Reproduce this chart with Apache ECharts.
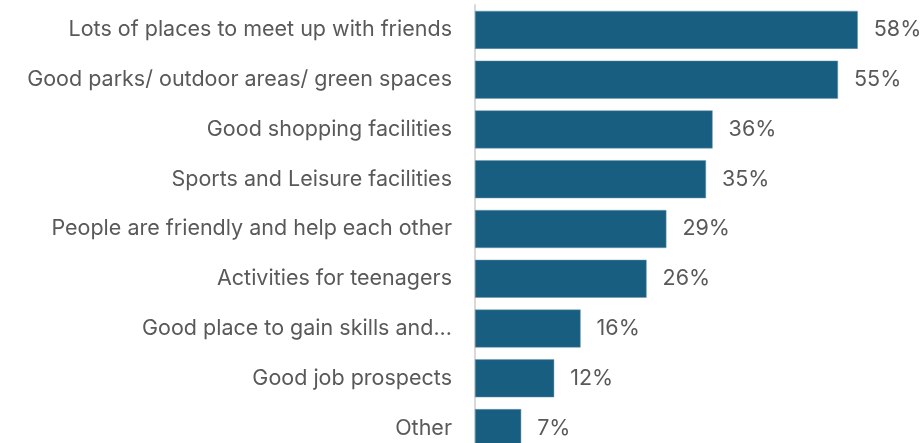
<!DOCTYPE html>
<html>
<head>
<meta charset="utf-8">
<script src="https://cdn.jsdelivr.net/npm/echarts@6/dist/echarts.min.js"></script>
<style>
  html, body { margin: 0; padding: 0; background: #fff; }
  #chart { width: 923px; height: 443px; }
</style>
</head>
<body>
<div id="chart"></div>
<script>
// Reasons given for liking the area, share of respondents (%)
const categories = [
  'Lots of places to meet up with friends',
  'Good parks/ outdoor areas/ green spaces',
  'Good shopping facilities',
  'Sports and Leisure facilities',
  'People are friendly and help each other',
  'Activities for teenagers',
  'Good place to gain skills and...',
  'Good job prospects',
  'Other'
];
const values = [58, 55, 36, 35, 29, 26, 16, 12, 7];

const FONT = 'Inter, Liberation Sans, sans-serif';

const chart = echarts.init(document.getElementById('chart'));
chart.setOption({
  animation: false,
  grid: {
    left: 475, right: 19, top: 5, bottom: -10,
    containLabel: false,
    outerBoundsMode: 'none'
  },
  xAxis: {
    type: 'value', min: 0, max: 65,
    show: false
  },
  yAxis: {
    type: 'category',
    data: categories,
    inverse: true,
    axisLine: { show: true, lineStyle: { color: '#d9d9d9', width: 2 } },
    axisTick: { show: false },
    axisLabel: {
      color: '#595959',
      fontSize: 21.5,
      fontFamily: FONT,
      margin: 23
    }
  },
  series: [{
    type: 'bar',
    data: values,
    barWidth: 38,
    itemStyle: { color: '#175e80', borderColor: '#6f98ad', borderWidth: 0.5 },
    label: {
      show: true,
      position: 'right',
      distance: 16,
      formatter: p => p.value + '%',
      color: '#595959',
      fontSize: 21.5,
      fontFamily: FONT
    }
  }]
});
</script>
</body>
</html>
